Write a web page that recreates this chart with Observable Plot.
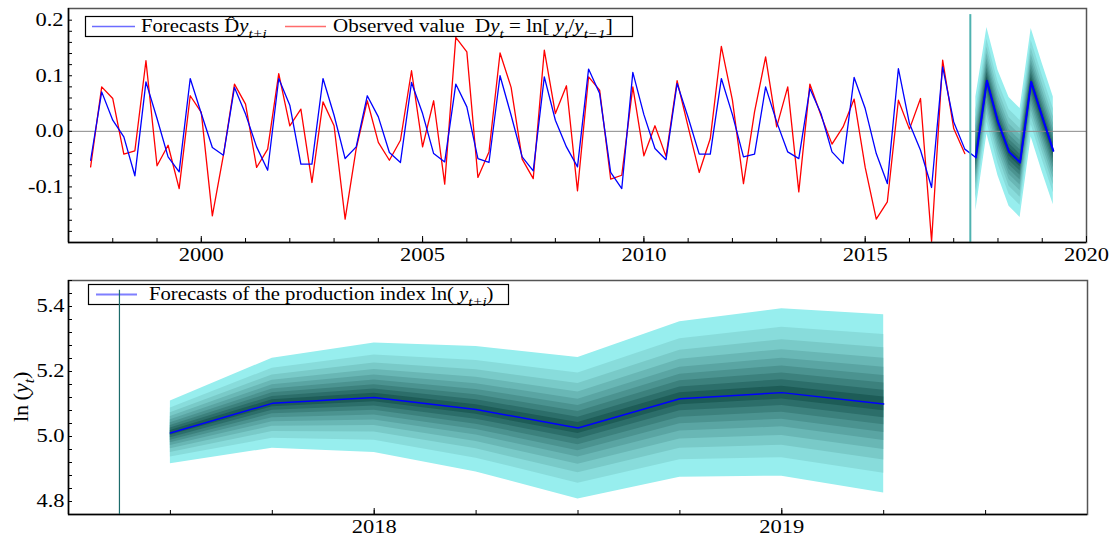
<!DOCTYPE html>
<html><head><meta charset="utf-8">
<script src="https://cdn.jsdelivr.net/npm/d3@7"></script>
<script src="https://cdn.jsdelivr.net/npm/@observablehq/plot@0.6"></script>
<style>
body{margin:0;background:#fff;}
#chart{width:1112px;height:536px;position:relative;}
svg{display:block;}
</style></head><body><div id="chart"></div>
<script>
// ---- data ----
const firstQuarter = 1997.5;            // 1997 Q3, quarterly steps of 0.25
const observedDy = [
  -0.064, 0.080,
  0.059, -0.041, -0.035, 0.127,
  -0.062, -0.025, -0.103, 0.064,
  0.034, -0.152, -0.043, 0.085,
  0.049, -0.065, -0.032, 0.104,
  0.010, 0.040, -0.092, 0.053,
  0.010, -0.158, -0.031, 0.055,
  -0.020, -0.052, -0.016, 0.109,
  -0.028, 0.055, -0.095, 0.169,
  0.143, -0.083, -0.037, 0.141,
  0.079, -0.050, -0.085, 0.146,
  0.032, 0.082, -0.107, 0.098,
  0.074, -0.086, -0.079, 0.080,
  -0.044, 0.010, -0.045, 0.091,
  0.008, -0.074, -0.013, 0.153,
  0.056, -0.094, 0.035, 0.134,
  0.008, 0.080, -0.109, 0.085,
  0.029, -0.023, 0.008, 0.058,
  -0.065, -0.158, -0.127, 0.056,
  0.004, 0.059, -0.198, 0.128,
  0.005, -0.040
];
const forecastDy = [
  -0.052, 0.071,
  0.020, -0.010, -0.080, 0.089,
  0.023, -0.046, -0.073, 0.095,
  0.032, -0.029, -0.043, 0.079,
  0.031, -0.028, -0.070, 0.095,
  0.047, -0.059, -0.059, 0.095,
  0.029, -0.049, -0.028, 0.064,
  0.026, -0.038, -0.056, 0.088,
  0.032, -0.040, -0.055, 0.085,
  0.044, -0.049, -0.056, 0.100,
  0.029, -0.046, -0.071, 0.098,
  0.020, -0.028, -0.064, 0.112,
  0.068, -0.074, -0.103, 0.106,
  0.030, -0.031, -0.051, 0.086,
  0.025, -0.041, -0.041, 0.095,
  0.030, -0.046, -0.041, 0.080,
  0.017, -0.037, -0.049, 0.077,
  0.032, -0.037, -0.058, 0.097,
  0.041, -0.040, -0.094, 0.113,
  0.014, -0.034, -0.101, 0.116,
  0.017, -0.032, -0.047, 0.091,
  0.017, -0.037, -0.056, 0.089,
  0.026, -0.035
];
const fanQuarters = [2017.5, 2017.75, 2018.0, 2018.25, 2018.5, 2018.75, 2019.0, 2019.25];
const dyFanCenter = [-0.047, 0.091, 0.017, -0.037, -0.056, 0.089, 0.026, -0.035];
const dyFanHigh   = [0.062, 0.187, 0.110, 0.061, 0.041, 0.185, 0.122, 0.062];
const dyFanLow    = [-0.143, -0.005, -0.080, -0.135, -0.155, -0.010, -0.073, -0.132];
const lnForecast  = [5.011, 5.102, 5.120, 5.083, 5.026, 5.116, 5.135, 5.100];
const lnHigh      = [5.109, 5.241, 5.288, 5.277, 5.243, 5.353, 5.393, 5.375];
const lnLow       = [4.916, 4.964, 4.951, 4.891, 4.808, 4.875, 4.878, 4.826];
const bandLevels  = [1, 0.779, 0.63, 0.512, 0.41, 0.319, 0.234, 0.154, 0.077];
const forecastOrigin = 2017.375;
const topXDomain = [1997, 2020], topYDomain = [-0.2, 0.221];
const botXDomain = [2017.25, 2019.75], botYDomain = [4.76, 5.48];
const topXTicks = [2000, 2005, 2010, 2015, 2020];
const topYTicks = [-0.1, 0.0, 0.1, 0.2];
const botXTicks = [2018, 2019];
const botYTicks = [4.8, 5.0, 5.2, 5.4];

// ---- styling ----
const FONT = "'Liberation Serif', 'Times New Roman', serif";
const TICK_FONT = 18;
const TICK_STRETCH = 1.25;
const bandColors = d3.quantize(d3.interpolateRgb("#97eeee", "#1d5c57"), bandLevels.length);

const obsRows = observedDy.map((v, i) => ({x: firstQuarter + i * 0.25, y: v}));
const fcRows = forecastDy.map((v, i) => ({x: firstQuarter + i * 0.25, y: v}));
function fanRows(center, lo, hi) {
  const rows = [];
  bandLevels.forEach((lv, k) => fanQuarters.forEach((x, i) => rows.push({
    band: k, x,
    y1: center[i] - (center[i] - lo[i]) * lv,
    y2: center[i] + (hi[i] - center[i]) * lv
  })));
  return rows;
}
const dyFan = fanRows(dyFanCenter, dyFanLow, dyFanHigh);
const lnFan = fanRows(lnForecast, lnLow, lnHigh);
const dyFanLine = fanQuarters.map((x, i) => ({x, y: dyFanCenter[i]}));
const lnLine = fanQuarters.map((x, i) => ({x, y: lnForecast[i]}));

const style = {fontFamily: FONT, fontSize: TICK_FONT + "px", color: "#000", background: "#fff", overflow: "visible"};
const blank = () => "";
const txt = {fontFamily: FONT, fontSize: TICK_FONT, fill: "#000"};

const topPlot = Plot.plot({
  width: 1112, height: 262, marginTop: 8, marginBottom: 20, marginLeft: 68, marginRight: 26,
  style,
  x: {domain: topXDomain},
  y: {domain: topYDomain},
  color: {type: "identity"},
  marks: [
    Plot.areaY(dyFan, {x: "x", y1: "y1", y2: "y2", z: "band", fill: d => bandColors[d.band], curve: "linear"}),
    Plot.ruleY([0], {stroke: "#888", strokeWidth: 1}),
    Plot.line(obsRows, {x: "x", y: "y", stroke: "#ff0000", strokeWidth: 1.3}),
    Plot.line(fcRows, {x: "x", y: "y", stroke: "#0000ff", strokeWidth: 1.3}),
    Plot.line(dyFanLine, {x: "x", y: "y", stroke: "#0000ff", strokeWidth: 2}),
    Plot.ruleX([forecastOrigin], {y1: topYDomain[0], y2: 0.21, stroke: "#4fb2b0", strokeWidth: 2}),
    Plot.frame({stroke: "#555", strokeWidth: 1.5}),
    Plot.ruleX([topXDomain[0]], {stroke: "#000", strokeWidth: 1.5}),
    Plot.ruleY([topYDomain[0]], {stroke: "#000", strokeWidth: 1.5}),
    Plot.axisX(d3.range(1998, 2020), {anchor: "bottom", tickSize: -4, tickFormat: blank, label: null, stroke: "#000"}),
    Plot.axisX(topXTicks, {anchor: "bottom", tickSize: -6, tickFormat: blank, label: null, stroke: "#000"}),
    Plot.axisX(topXTicks, {anchor: "bottom", tickSize: 0, tickPadding: 6, tickFormat: "d", label: null, ...txt}),
    Plot.axisY(d3.range(-18, 22, 2).map(v => v / 100), {anchor: "left", tickSize: -4, tickFormat: blank, label: null, stroke: "#000"}),
    Plot.axisY(topYTicks, {anchor: "left", tickSize: 0, tickPadding: 5, tickFormat: d => d.toFixed(1), label: null, ...txt})
  ]
});

const botPlot = Plot.plot({
  width: 1112, height: 274, marginTop: 18, marginBottom: 22, marginLeft: 68, marginRight: 25,
  style,
  x: {domain: botXDomain},
  y: {domain: botYDomain},
  color: {type: "identity"},
  marks: [
    Plot.areaY(lnFan, {x: "x", y1: "y1", y2: "y2", z: "band", fill: d => bandColors[d.band], curve: "linear"}),
    Plot.line(lnLine, {x: "x", y: "y", stroke: "#0000ff", strokeWidth: 1.5}),
    Plot.frame({stroke: "#555", strokeWidth: 1.5}),
    Plot.ruleX([botXDomain[0]], {stroke: "#000", strokeWidth: 1.5}),
    Plot.ruleY([botYDomain[0]], {stroke: "#000", strokeWidth: 1.5}),
    Plot.axisX(d3.range(0, 9).map(i => 2017.5 + i * 0.25), {anchor: "bottom", tickSize: -4, tickFormat: blank, label: null, stroke: "#000"}),
    Plot.axisX(botXTicks, {anchor: "bottom", tickSize: -6, tickFormat: blank, label: null, stroke: "#000"}),
    Plot.axisX(botXTicks, {anchor: "bottom", tickSize: 0, tickPadding: 6, tickFormat: "d", label: null, ...txt}),
    Plot.axisY(d3.range(0, 19).map(i => 4.76 + i * 0.04), {anchor: "left", tickSize: -4, tickFormat: blank, label: null, stroke: "#000"}),
    Plot.axisY(botYTicks, {anchor: "left", tickSize: 0, tickPadding: 4, tickFormat: d => d.toFixed(1), label: null, ...txt})
  ]
});

// serif face and the reference's slightly wide lettering on every tick label
for (const svg of [topPlot, botPlot]) {
  d3.select(svg).selectAll("text")
    .style("font-family", FONT).style("font-variant", "normal")
    .attr("transform", function () { const t = this.getAttribute("transform") || ""; return `${t} scale(${TICK_STRETCH},1)`; });
}

// ---- rich text helpers (legends, y label) ----
function rich(g, x, y, parts, size, sx) {
  const t = g.append("text").attr("x", x).attr("y", y).attr("text-anchor", "start")
    .style("font-family", FONT).attr("font-size", size).attr("fill", "#000");
  let shift = 0;
  for (const p of parts) {
    const s = t.append("tspan").text(p.t);
    const target = p.sub ? size * 0.3 : 0;
    if (target !== shift) { s.attr("dy", target - shift); shift = target; }
    if (p.i) s.attr("font-style", "italic");
    if (p.sub) s.attr("font-size", size * 0.72);
  }
  if (sx) t.attr("transform", `translate(${x},${y}) scale(${sx},1) translate(${-x},${-y})`);
  return t;
}

const tg = d3.select(topPlot).append("g");
tg.append("rect").attr("x", 85.5).attr("y", 16.5).attr("width", 547).attr("height", 20)
  .attr("fill", "#fff").attr("stroke", "#000").attr("stroke-width", 1.2);
tg.append("line").attr("x1", 92).attr("x2", 135).attr("y1", 26.5).attr("y2", 26.5)
  .attr("stroke", "#6c6cff").attr("stroke-width", 1.6);
rich(tg, 141, 32.5, [{t: "Forecasts "}, {t: "D\u0302"}, {t: "y", i: true}, {t: "t+i", sub: true, i: true}], 18, 1.15);
tg.append("line").attr("x1", 285).attr("x2", 326).attr("y1", 26.5).attr("y2", 26.5)
  .attr("stroke", "#ff6c6c").attr("stroke-width", 1.6);
rich(tg, 333, 32.5, [{t: "Observed value  "}, {t: "D"}, {t: "y", i: true}, {t: "t", sub: true, i: true},
  {t: " = ln[ "}, {t: "y", i: true}, {t: "t", sub: true, i: true}, {t: "/"}, {t: "y", i: true},
  {t: "t\u22121", sub: true, i: true}, {t: "]"}], 18, 1.17);

const bg = d3.select(botPlot).append("g");
bg.append("rect").attr("x", 88.5).attr("y", 22.5).attr("width", 420).attr("height", 20)
  .attr("fill", "#fff").attr("stroke", "#000").attr("stroke-width", 1.2);
bg.append("line").attr("x1", 96).attr("x2", 137).attr("y1", 32.5).attr("y2", 32.5)
  .attr("stroke", "#7f7fff").attr("stroke-width", 2);
rich(bg, 149, 38.5, [{t: "Forecasts of the production index ln( "}, {t: "y", i: true},
  {t: "t+i", sub: true, i: true}, {t: ")"}], 18, 1.15);

const yl = bg.append("g").attr("transform", "translate(28,126) rotate(-90)");
rich(yl, -34, 0, [{t: "ln\u2009("}, {t: "y", i: true}, {t: "t", sub: true, i: true}, {t: ")"}], 21, 1.05);

document.getElementById("chart").append(topPlot, botPlot);

// forecast-origin rule in the lower panel is drawn over the legend box, as in the reference
const overlay = Plot.plot({
  width: 1112, height: 274, marginTop: 18, marginBottom: 22, marginLeft: 68, marginRight: 25,
  x: {domain: botXDomain, axis: null}, y: {domain: botYDomain, axis: null},
  style: {background: "transparent", position: "absolute", left: "0px", top: "262px"},
  marks: [Plot.ruleX([forecastOrigin], {y1: botYDomain[0], y2: 5.45, stroke: "#1d6b6b", strokeWidth: 1.2})]
});
document.getElementById("chart").append(overlay);
</script></body></html>
